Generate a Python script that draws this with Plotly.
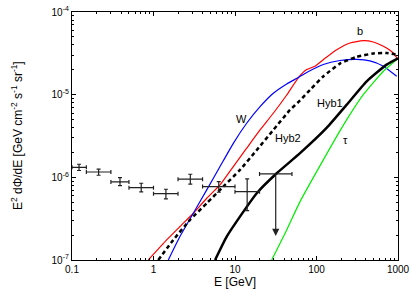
import numpy as np
import plotly.graph_objects as go

# ---------------- data ----------------
# data points (E [GeV], E^2 dPhi/dE)
pt_E = [0.122, 0.212, 0.388, 0.707, 1.42, 2.83, 6.32, 14.1]
pt_lo = [0.1, 0.15, 0.3, 0.5, 1.0, 2.0, 4.0, 10.0]
pt_hi = [0.15, 0.3, 0.5, 1.0, 2.0, 4.0, 10.0, 20.0]
pt_F = [1.32e-6, 1.16e-6, 8.8e-7, 7.5e-7, 6.35e-7, 9.5e-7, 7.72e-7, 6.7e-7]
pt_Fup = [1.44e-6, 1.26e-6, 9.9e-7, 8.48e-7, 7.18e-7, 1.09e-6, 8.87e-7, 9.57e-7]
pt_Fdn = [1.21e-6, 1.06e-6, 7.94e-7, 6.66e-7, 5.48e-7, 8.26e-7, 6.6e-7, 3.95e-7]

# upper limit
ul_E = [31.6]
ul_lo = [20.0]
ul_hi = [50.0]
ul_F = [1.1e-6]
ul_arrow_to = [1.95e-7]

# model curves
b_E = [0.863, 1.45, 2.11, 3.08, 4.50, 6.55, 9.53, 13.9, 20.3, 29.5, 43.1, 59.8, 75.8, 95.9, 121, 177, 258, 375, 498, 661, 875, 1000]
b_F = [1e-7, 1.75e-7, 2.54e-7, 3.68e-7, 5.58e-7, 8.09e-7, 1.35e-6, 2.25e-6, 3.74e-6, 5.96e-6, 9.91e-6, 1.60e-5,
       2.01e-5, 2.21e-5, 2.65e-5, 3.50e-5, 4.22e-5, 4.50e-5, 4.34e-5, 3.85e-5, 3.19e-5, 2.65e-5]

W_E = [1.52, 2.11, 3.08, 4.50, 6.55, 9.53, 13.9, 20.3, 29.5, 43.1, 59.8, 75.8, 121, 194, 311, 453, 661, 964]
W_F = [1e-7, 1.92e-7, 3.68e-7, 7.05e-7, 1.35e-6, 2.58e-6, 4.51e-6, 7.16e-6, 1.04e-5, 1.35e-5, 1.61e-5, 1.855e-5,
       2.32e-5, 2.59e-5, 2.67e-5, 2.56e-5, 2.21e-5, 1.67e-5]

hyb2_E = [1.145, 1.75, 2.80, 4.50, 7.18, 11.5, 18.5, 29.5, 47.3, 62.8, 83.2, 121, 194, 311, 498, 726, 1000]
hyb2_F = [1e-7, 1.75e-7, 3.05e-7, 4.86e-7, 7.73e-7, 1.23e-6, 2.14e-6, 3.74e-6, 6.53e-6, 8.51e-6, 1.14e-5, 1.66e-5,
          2.38e-5, 2.86e-5, 3.15e-5, 3.19e-5, 3.02e-5]

hyb1_E = [5.69, 7.91, 11.5, 18.5, 32.5, 62.8, 133, 235, 413, 726, 1000]
hyb1_F = [1e-7, 1.92e-7, 3.35e-7, 6.43e-7, 1.12e-6, 1.96e-6, 3.96e-6, 7.57e-6, 1.45e-5, 2.31e-5, 2.75e-5]

tau_E = [28.2, 43.1, 62.8, 204, 375, 661, 1000]
tau_F = [1e-7, 2.31e-7, 5.08e-7, 3.96e-6, 1.0e-5, 1.92e-5, 2.75e-5]

# curve labels
lab_text = ["b", "W", "Hyb2", "Hyb1", "τ"]
lab_E = [342, 12.1, 45.1, 146.5, 224]
lab_F = [5.89e-5, 5.08e-6, 2.97e-6, 8.0e-6, 2.83e-6]

x_tickvals = [0.1, 1, 10, 100, 1000]
x_ticktext = ["0.1", "1", "10", "100", "1000"]
y_tickvals = [1e-7, 1e-6, 1e-5, 1e-4]
y_ticktext = ["10<sup>-7</sup>", "10<sup>-6</sup>", "10<sup>-5</sup>", "10<sup>-4</sup>"]
y_title = "E<sup>2</sup> dΦ/dE [GeV cm<sup>-2</sup> s<sup>-1</sup> sr<sup>-1</sup>]"
x_title = "E [GeV]"

# ---------------- figure ----------------
fig = go.Figure()

def curve(x, y, color, width, dash="solid"):
    fig.add_trace(go.Scatter(x=x, y=y, mode="lines",
                             line=dict(color=color, width=width, dash=dash, shape="spline", smoothing=0.5),
                             showlegend=False, hoverinfo="skip"))

curve(b_E, b_F, "#ff0000", 1.2)
curve(W_E, W_F, "#0000ff", 1.2)
curve(tau_E, tau_F, "#00ee00", 1.2)
curve(hyb2_E, hyb2_F, "black", 2.5, dash="4px,3px")
curve(hyb1_E, hyb1_F, "black", 2.5)

ecol = "#222222"
fig.add_trace(go.Scatter(
    x=pt_E, y=pt_F, mode="markers", marker=dict(size=1, color=ecol),
    error_x=dict(type="data", symmetric=False,
                 array=[h - e for h, e in zip(pt_hi, pt_E)],
                 arrayminus=[e - l for e, l in zip(pt_E, pt_lo)],
                 color=ecol, thickness=1.2, width=2),
    error_y=dict(type="data", symmetric=False,
                 array=[u - f for u, f in zip(pt_Fup, pt_F)],
                 arrayminus=[f - d for f, d in zip(pt_F, pt_Fdn)],
                 color=ecol, thickness=1.2, width=2),
    showlegend=False, hoverinfo="skip"))

fig.add_trace(go.Scatter(
    x=ul_E, y=ul_F, mode="markers", marker=dict(size=1, color=ecol),
    error_x=dict(type="data", symmetric=False,
                 array=[h - e for h, e in zip(ul_hi, ul_E)],
                 arrayminus=[e - l for e, l in zip(ul_E, ul_lo)],
                 color=ecol, thickness=1.2, width=2),
    showlegend=False, hoverinfo="skip"))

for e, f, t in zip(ul_E, ul_F, ul_arrow_to):
    fig.add_annotation(x=np.log10(e), y=np.log10(t), ax=np.log10(e), ay=np.log10(f),
                       xref="x", yref="y", axref="x", ayref="y", text="",
                       showarrow=True, arrowhead=2, arrowsize=1.2, arrowwidth=1.2, arrowcolor=ecol)

for t, e, f in zip(lab_text, lab_E, lab_F):
    fig.add_annotation(x=np.log10(e), y=np.log10(f), xref="x", yref="y", text=t, showarrow=False,
                       font=dict(size=11, color="black", family="Liberation Sans"))

# y axis title as rotated annotation
fig.add_annotation(x=0, y=0.5, xref="paper", yref="paper", text=y_title, showarrow=False,
                   textangle=-90, xanchor="center", yanchor="middle", xshift=-55,
                   font=dict(size=12, family="Liberation Sans", color="black"))

def minor_vals(lo, hi):
    v = []
    for d in range(lo, hi):
        for m in range(2, 10):
            v.append(m * 10.0 ** d)
    return v

axis_common = dict(type="log", showgrid=False, zeroline=False, showline=True, linecolor="black", linewidth=1.2,
                   mirror="allticks", ticks="inside", ticklen=4, tickwidth=1, tickcolor="black", automargin=False,
                   tickfont=dict(size=10, family="Liberation Sans", color="black"))

fig.update_xaxes(**axis_common, range=[-1, 3], tickvals=x_tickvals, ticktext=x_ticktext,
                 minor=dict(tickvals=minor_vals(-1, 3), ticks="inside", ticklen=2, tickcolor="black", showgrid=False),
                 title=dict(text=x_title, font=dict(size=12, family="Liberation Sans", color="black"), standoff=2))
fig.update_yaxes(**axis_common, range=[-7, -4], tickvals=y_tickvals, ticktext=y_ticktext,
                 minor=dict(tickvals=minor_vals(-7, -4), ticks="inside", ticklen=2, tickcolor="black", showgrid=False))

fig.update_layout(width=417, height=292, margin=dict(l=72, r=19, t=12, b=32),
                  plot_bgcolor="white", paper_bgcolor="white", showlegend=False)

fig.write_html("out.html", config={"displayModeBar": False},
               post_script="document.body.style.margin='0';")
